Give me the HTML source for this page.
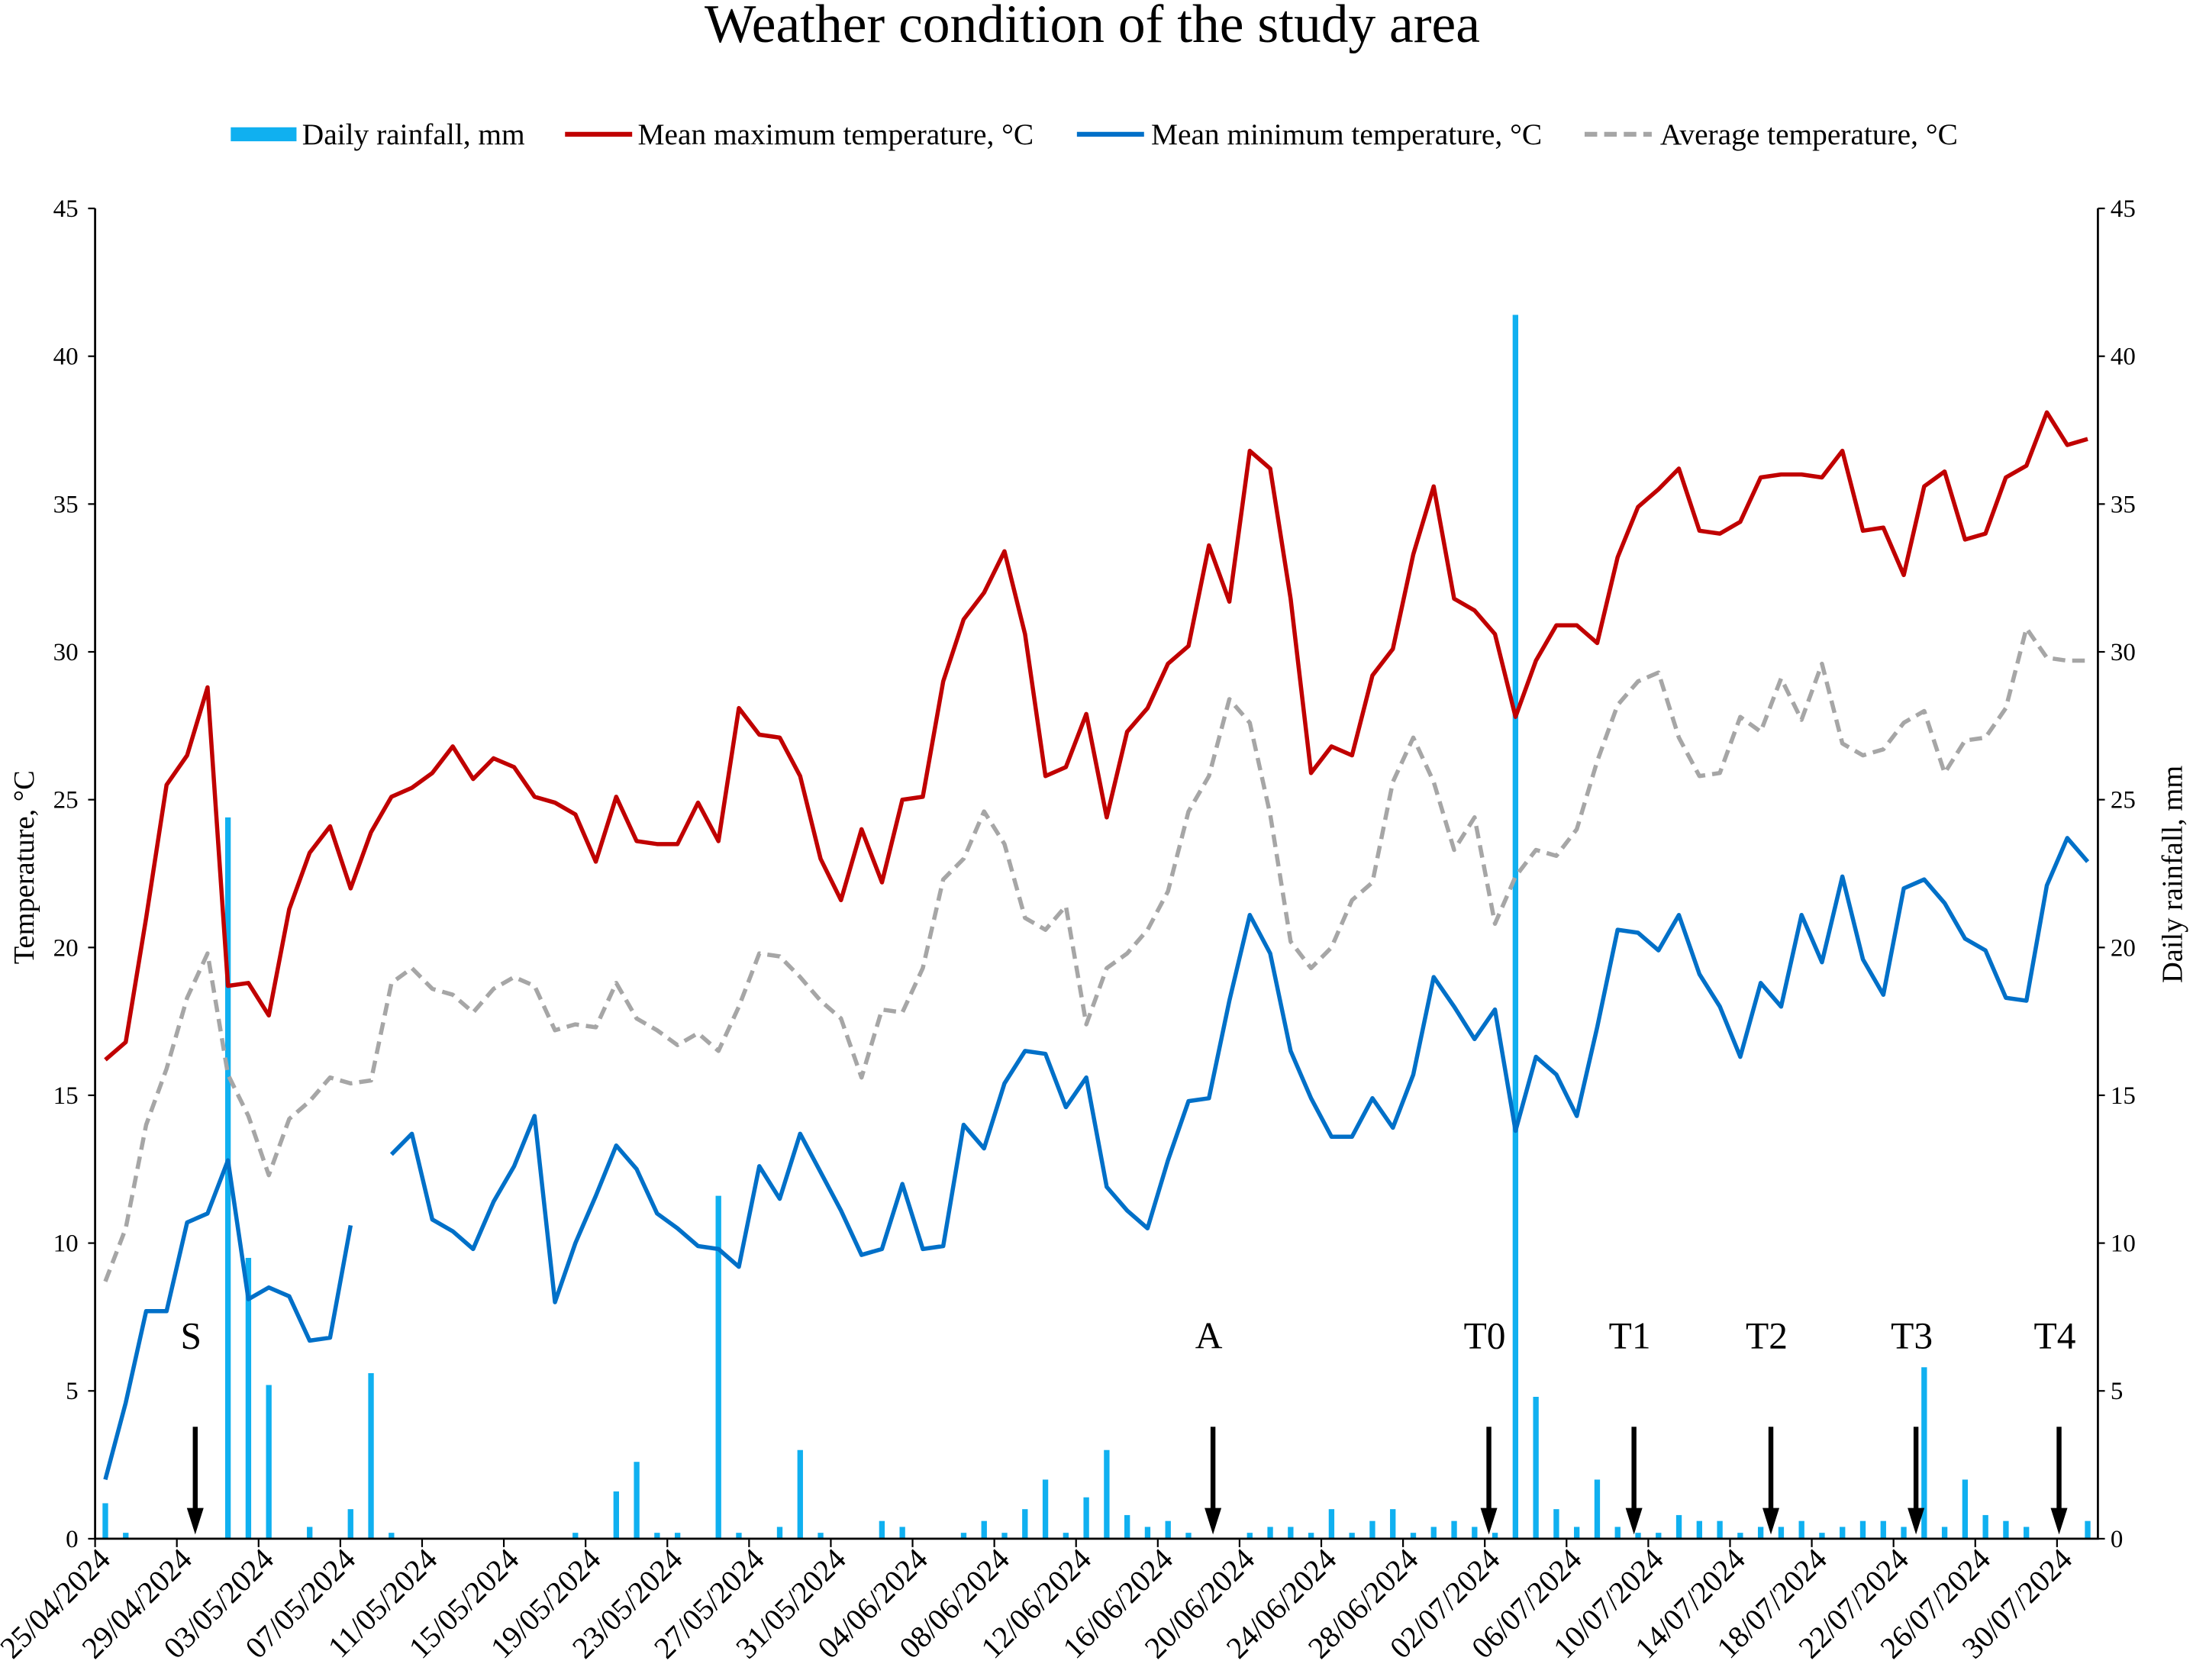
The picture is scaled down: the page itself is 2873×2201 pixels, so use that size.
<!DOCTYPE html>
<html><head><meta charset="utf-8"><style>
html,body{margin:0;padding:0;background:#fff}
svg{display:block}
text{font-family:"Liberation Serif",serif;fill:#000}
</style></head><body>
<svg id="chart" width="2873" height="2201" viewBox="0 0 1568 1201" preserveAspectRatio="none" xmlns="http://www.w3.org/2000/svg">
<text x="781" y="30" font-size="39" text-anchor="middle">Weather condition of the study area</text>
<g>
<rect x="165" y="91" width="47" height="10" fill="#10b0f0"/>
<text x="216" y="103" font-size="21.5">Daily rainfall, mm</text>
<line x1="404" y1="96" x2="452" y2="96" stroke="#c00000" stroke-width="3.5"/>
<text x="456" y="103" font-size="21.5">Mean maximum temperature, °C</text>
<line x1="770" y1="96" x2="818" y2="96" stroke="#0070c8" stroke-width="3.5"/>
<text x="823" y="103" font-size="21.5">Mean minimum temperature, °C</text>
<line x1="1133" y1="96" x2="1181" y2="96" stroke="#a6a6a6" stroke-width="3.5" stroke-dasharray="9,5"/>
<text x="1187" y="103" font-size="21.5">Average temperature, °C</text>
</g>
<g id="plot"></g>
<text transform="translate(24,620) rotate(-90)" font-size="21" text-anchor="middle">Temperature, °C</text>
<text transform="translate(1560,625) rotate(-90)" font-size="21" text-anchor="middle">Daily rainfall, mm</text>
</svg>
<script>
const startDate = [25, 4, 2024];
const nDays = 98;
const tempTicks = [0,5,10,15,20,25,30,35,40,45];
const rainfall = [1.2,0.2,0,0,0,0,24.4,9.5,5.2,0,0.4,0,1.0,5.6,0.2,0,0,0,0,0,0,0,0,0.2,0,1.6,2.6,0.2,0.2,0,11.6,0.2,0,0.4,3.0,0.2,0,0,0.6,0.4,0,0,0.2,0.6,0.2,1.0,2.0,0.2,1.4,3.0,0.8,0.4,0.6,0.2,0,0,0.2,0.4,0.4,0.2,1.0,0.2,0.6,1.0,0.2,0.4,0.6,0.4,0.2,41.4,4.8,1.0,0.4,2.0,0.4,0.2,0.2,0.8,0.6,0.6,0.2,0.4,0.4,0.6,0.2,0.4,0.6,0.6,0.4,5.8,0.4,2.0,0.8,0.6,0.4,0,0,0.6];
const maxTemp = [16.2,16.8,21,25.5,26.5,28.8,18.7,18.8,17.7,21.3,23.2,24.1,22,23.9,25.1,25.4,25.9,26.8,25.7,26.4,26.1,25.1,24.9,24.5,22.9,25.1,23.6,23.5,23.5,24.9,23.6,28.1,27.2,27.1,25.8,23,21.6,24,22.2,25,25.1,29,31.1,32,33.4,30.6,25.8,26.1,27.9,24.4,27.3,28.1,29.6,30.2,33.6,31.7,36.8,36.2,31.8,25.9,26.8,26.5,29.2,30.1,33.3,35.6,31.8,31.4,30.6,27.8,29.7,30.9,30.9,30.3,33.2,34.9,35.5,36.2,34.1,34,34.4,35.9,36,36,35.9,36.8,34.1,34.2,32.6,35.6,36.1,33.8,34,35.9,36.3,38.1,37,37.2];
const minTemp = [2.0,4.6,7.7,7.7,10.7,11,12.8,8.1,8.5,8.2,6.7,6.8,10.6,null,13.0,13.7,10.8,10.4,9.8,11.4,12.6,14.3,8.0,10,11.6,13.3,12.5,11,10.5,9.9,9.8,9.2,12.6,11.5,13.7,12.4,11.1,9.6,9.8,12,9.8,9.9,14,13.2,15.4,16.5,16.4,14.6,15.6,11.9,11.1,10.5,12.8,14.8,14.9,18.2,21.1,19.8,16.5,14.9,13.6,13.6,14.9,13.9,15.7,19.0,18,16.9,17.9,13.8,16.3,15.7,14.3,17.3,20.6,20.5,19.9,21.1,19.1,18,16.3,18.8,18,21.1,19.5,22.4,19.6,18.4,22,22.3,21.5,20.3,19.9,18.3,18.2,22.1,23.7,22.9];
const avgTemp = [8.7,10.5,14,15.9,18.3,19.8,15.7,14.3,12.3,14.2,14.8,15.6,15.4,15.5,18.8,19.3,18.6,18.4,17.8,18.6,19,18.7,17.2,17.4,17.3,18.8,17.6,17.2,16.7,17.1,16.5,18,19.8,19.7,19,18.2,17.6,15.6,17.9,17.8,19.3,22.3,23,24.6,23.5,21,20.6,21.4,17.4,19.3,19.8,20.6,21.9,24.6,25.8,28.4,27.6,24.5,20.2,19.3,20,21.6,22.2,25.6,27.1,25.6,23.3,24.4,20.8,22.4,23.3,23.1,24,26.3,28.2,29,29.3,27.1,25.8,25.9,27.8,27.3,29.1,27.7,29.6,26.9,26.5,26.7,27.6,28,25.9,27,27.1,28.1,30.8,29.8,29.7,29.7];
const stageLabels = ["S","A","T0","T1","T2","T3","T4"];
const stageDays = [4.4,54.2,67.7,74.8,81.5,88.6,95.6];

const NS="http://www.w3.org/2000/svg";
const X0=68,X1=1500,Y0=1100,Y1=149,YMAX=45;
const bw=(X1-X0)/nDays;
const xc=i=>X0+bw*(i+0.5);
const xb=i=>X0+bw*i;
const y=v=>Y0-(v/YMAX)*(Y0-Y1);
const g=document.getElementById('plot');
function mk(tag,attrs){const e=document.createElementNS(NS,tag);for(const k in attrs)e.setAttribute(k,attrs[k]);g.appendChild(e);return e;}

rainfall.forEach((v,i)=>{if(v<=0)return;
 const r=mk('rect',{x:xc(i)-2,y:y(v),width:4,height:Y0-y(v),fill:'#10b0f0'});
 
 
});
function line(arr,color,dash,name){
 let d='',pen=false;
 arr.forEach((v,i)=>{if(v==null){pen=false;return;}d+=(pen?'L':'M')+xc(i).toFixed(1)+','+y(v).toFixed(1);pen=true;});
 const p=mk('path',{d:d,fill:'none',stroke:color,'stroke-width':3,'stroke-linejoin':'round'});
 if(dash)p.setAttribute('stroke-dasharray',dash);
 
 
}
line(avgTemp,'#a6a6a6','9,5','avg-temp-line');
line(maxTemp,'#c00000',null,'max-temp-line');
line(minTemp,'#0070c8',null,'min-temp-line');

const ax=mk('path',{d:`M${X0},${Y1}V${Y0}H${X1}V${Y1}`,fill:'none',stroke:'#000','stroke-width':1.5});


tempTicks.forEach(t=>{
 mk('line',{x1:X0-5,x2:X0,y1:y(t),y2:y(t),stroke:'#000','stroke-width':1.2});
 mk('line',{x1:X1,x2:X1+5,y1:y(t),y2:y(t),stroke:'#000','stroke-width':1.2});
 const a=mk('text',{x:X0-12,y:y(t)+6,'font-size':18,'text-anchor':'end'});a.textContent=t;
 
 
 const b=mk('text',{x:X1+9,y:y(t)+6,'font-size':18});b.textContent=t;
 
 
});
const d0=new Date(startDate[2],startDate[1]-1,startDate[0]);
for(let i=0;i<nDays;i+=4){
 mk('line',{x1:xb(i),x2:xb(i),y1:Y0,y2:Y0+6,stroke:'#000','stroke-width':1.2});
 const dt=new Date(d0.getTime()+i*86400000);
 const s=String(dt.getDate()).padStart(2,'0')+'/'+String(dt.getMonth()+1).padStart(2,'0')+'/'+dt.getFullYear();
 const tx=xb(i)+12,ty=Y0+16;
 const t=mk('text',{x:tx,y:ty,'font-size':22,'text-anchor':'end',transform:`rotate(-45 ${tx} ${ty})`});
 t.textContent=s;
 
 
}
stageDays.forEach((d,k)=>{
 const x=xc(d);
 mk('line',{x1:x,x2:x,y1:1020,y2:1080,stroke:'#000','stroke-width':3.5});
 const h=mk('path',{d:`M${x-6},1078L${x+6},1078L${x},1097Z`,fill:'#000'});
 
 
 const t=mk('text',{x:x-3,y:964,'font-size':27,'text-anchor':'middle'});
 t.textContent=stageLabels[k];
 
 
});
</script>
</body></html>
